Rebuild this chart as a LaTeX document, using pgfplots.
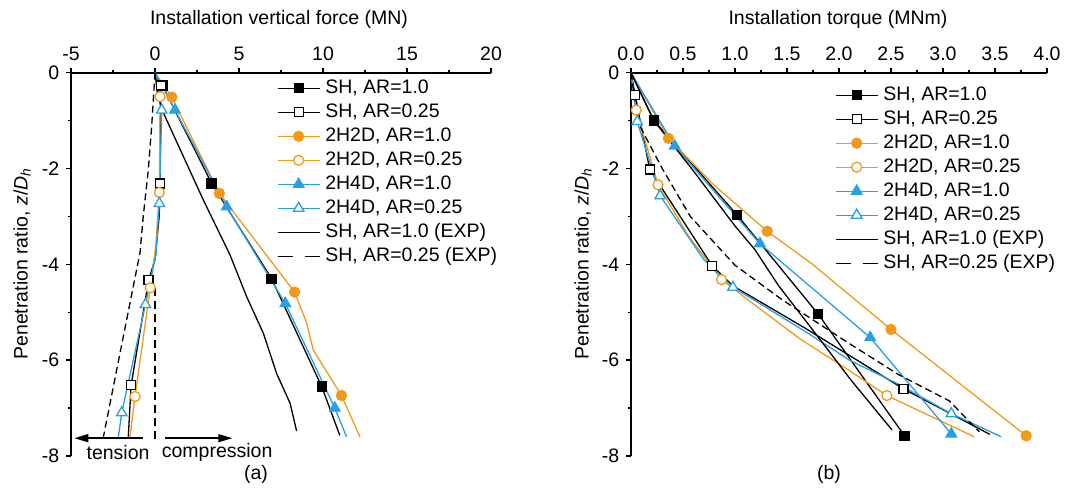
\documentclass[border=0pt]{standalone}
\usepackage{fontspec}
\setmainfont{Liberation Sans}
\usepackage{pgfplots}
\pgfplotsset{compat=1.18}
\usetikzlibrary{arrows.meta}
\definecolor{myorange}{RGB}{242,153,28}
\definecolor{myblue}{RGB}{38,160,226}
\pgfplotsset{
  myaxis/.style={
    scale only axis, height=383.2pt, ymin=-8, ymax=0,
    axis x line=top, axis y line=left,
    axis line style={-, line width=1.8pt},
    tick align=outside, major tick length=5pt, minor tick length=3pt,
    tick style={black, line width=1.4pt},
    ytick={-8,-6,-4,-2,0}, minor y tick num=1, minor x tick num=1,
    /pgf/number format/assume math mode=true,
    clip=false,
    legend cell align=left,
    legend style={draw=none, fill=none, inner sep=0pt, row sep=4pt, column sep=4pt,
      nodes={inner sep=1pt, text height=14pt, text depth=4pt}},
    legend image code/.code={\draw[##1, mark indices={2}] plot coordinates {(0pt,0pt) (21pt,0pt) (42pt,0pt)};},
  },
  shfill/.style={black, line width=1.3pt, mark=square*, mark size=4.5pt, mark options={solid, fill=black}},
  shopen/.style={black, line width=1.3pt, mark=square*, mark size=4.5pt, mark options={solid, fill=white}},
  hdfill/.style={myorange, line width=1.3pt, mark=*, mark size=5pt, mark options={solid, fill=myorange}},
  hdopen/.style={myorange, line width=1.3pt, mark=*, mark size=5pt, mark options={solid, fill=white}},
  h4fill/.style={myblue, line width=1.3pt, mark=triangle*, mark size=6pt, mark options={solid, fill=myblue}},
  h4open/.style={myblue, line width=1.3pt, mark=triangle*, mark size=6pt, mark options={solid, fill=white}},
  expsolid/.style={black, line width=1.3pt, mark=none},
  expdash/.style={black, line width=1.3pt, mark=none, dash pattern=on 7pt off 4pt,
    legend image post style={dash pattern=on 15pt off 12pt}},
}
\begin{document}
\fontsize{19.5}{23.4}\selectfont%
\begin{tikzpicture}
\path[use as bounding box] (0pt,0pt) rectangle (1075pt,488pt);
% ---------------- (a) ----------------
\begin{axis}[myaxis, at={(71pt,32.1pt)}, anchor=south west, width=420pt,
  xmin=-5, xmax=20, xtick={-5,0,5,10,15,20},
  legend style={at={(0.49,0.986)}, anchor=north west}]
\addplot[shfill, mark indices={2,3,4,5}] coordinates {(0,0) (0.45,-0.27) (3.37,-2.31) (6.94,-4.3) (9.92,-6.55) (11.0,-7.57)};
\addlegendentry{SH, AR=1.0}
\addplot[shopen, mark indices={2,3,6,7}] coordinates {(0,0) (0.35,-0.27) (0.3,-2.31) (0.25,-3.0) (0.0,-3.9) (-0.38,-4.33) (-1.42,-6.52) (-1.59,-7.6)};
\addlegendentry{SH, AR=0.25}
\addplot[hdfill, mark indices={2,3,4,7}] coordinates {(0,0) (1.0,-0.51) (3.83,-2.52) (8.31,-4.58) (9.03,-5.23) (9.42,-5.79) (11.1,-6.74) (12.2,-7.6)};
\addlegendentry{2H2D, AR=1.0}
\addplot[hdopen, mark indices={2,3,5,6}] coordinates {(0,0) (0.3,-0.5) (0.26,-2.5) (0.05,-3.6) (-0.28,-4.49) (-1.19,-6.76) (-1.49,-7.6)};
\addlegendentry{2H2D, AR=0.25}
\addplot[h4fill, mark indices={2,3,4,5}] coordinates {(0,0) (1.19,-0.78) (4.27,-2.8) (7.76,-4.82) (10.7,-7.0) (11.4,-7.6)};
\addlegendentry{2H4D, AR=1.0}
\addplot[h4open, mark indices={2,3,5,6}] coordinates {(0,0) (0.4,-0.78) (0.26,-2.73) (0.05,-3.8) (-0.57,-4.84) (-1.98,-7.1) (-2.18,-7.6)};
\addlegendentry{2H4D, AR=0.25}
\addplot[expsolid] coordinates {(0,0) (0.15,-0.45) (0.45,-0.8) (2.88,-2.66) (4.46,-3.8) (5.46,-4.68) (6.45,-5.44) (7.24,-6.28) (8.04,-6.9) (8.43,-7.48)};
\addlegendentry{SH, AR=1.0 (EXP)}
\addplot[expdash] coordinates {(0,0) (-0.2,-1.13) (-0.4,-2.03) (-0.7,-3.0) (-0.89,-3.75) (-3.07,-7.6)};
\addlegendentry{SH, AR=0.25 (EXP)}
\draw[black, line width=1.3pt, dash pattern=on 8pt off 5pt] (axis cs:0,-4.5) -- (axis cs:0,-7.75);
\draw[black, line width=1.5pt, -{Triangle[length=14pt,width=8pt]}] (axis cs:-0.7,-7.63) -- (axis cs:-4.8,-7.63);
\draw[black, line width=1.5pt, -{Triangle[length=14pt,width=8pt]}] (axis cs:0.6,-7.63) -- (axis cs:4.6,-7.63);
\node at (axis cs:-2.2,-7.92) {tension};
\node at (axis cs:3.7,-7.92) {compression};
\end{axis}
% ---------------- (b) ----------------
\begin{axis}[myaxis, at={(631pt,32.1pt)}, anchor=south west, width=416pt,
  xmin=0, xmax=4, xtick={0,0.5,...,4},
  xticklabel style={/pgf/number format/.cd, fixed, fixed zerofill, precision=1},
  legend style={at={(0.49,0.968)}, anchor=north west}]
\addplot[shfill, mark indices={2,3,4,5}] coordinates {(0,0) (0.22,-1.0) (1.02,-2.97) (1.8,-5.04) (2.63,-7.58)};
\addlegendentry{SH, AR=1.0}
\addplot[shopen, mark indices={2,3,4,8}] coordinates {(0,0) (0.04,-0.47) (0.18,-2.02) (0.78,-4.03) (0.98,-4.45) (1.39,-4.97) (1.71,-5.38) (2.62,-6.6) (3.45,-7.55)};
\addlegendentry{SH, AR=0.25}
\addplot[hdfill, mark indices={2,4,6,7}] coordinates {(0,0) (0.36,-1.37) (0.8,-2.35) (1.31,-3.31) (1.74,-3.99) (2.5,-5.36) (3.8,-7.58)};
\addlegendentry{2H2D, AR=1.0}
\addplot[hdopen, mark indices={2,3,5,9}] coordinates {(0,0) (0.05,-0.78) (0.26,-2.34) (0.55,-3.4) (0.87,-4.32) (1.1,-4.7) (1.62,-5.55) (2.1,-6.22) (2.46,-6.74) (3.3,-7.6)};
\addlegendentry{2H2D, AR=0.25}
\addplot[h4fill, mark indices={2,3,4,5}] coordinates {(0,0) (0.42,-1.53) (1.24,-3.57) (2.3,-5.53) (3.08,-7.54)};
\addlegendentry{2H4D, AR=1.0}
\addplot[h4open, mark indices={2,3,5,10}] coordinates {(0,0) (0.06,-1.02) (0.28,-2.57) (0.7,-3.9) (0.98,-4.48) (1.3,-4.9) (1.71,-5.45) (2.1,-6.0) (2.57,-6.5) (3.08,-7.12) (3.56,-7.6)};
\addlegendentry{2H4D, AR=0.25}
\addplot[expsolid] coordinates {(0,0) (0.22,-1.0) (0.6,-2.05) (1.0,-3.2) (1.19,-3.69) (1.42,-4.45) (1.74,-5.35) (2.12,-6.43) (2.51,-7.46)};
\addlegendentry{SH, AR=1.0 (EXP)}
\addplot[expdash] coordinates {(0,0) (0.07,-1.05) (0.3,-2.0) (0.57,-3.0) (1.0,-4.02) (1.46,-4.75) (2.06,-5.6) (2.57,-6.3) (3.06,-6.85) (3.35,-7.5)};
\addlegendentry{SH, AR=0.25 (EXP)}
\end{axis}
% ---------------- labels ----------------
\node at (279pt,469pt) {Installation vertical force (MN)};
\node at (838pt,469pt) {Installation torque (MNm)};
\node[rotate=90] at (22pt,224pt) {Penetration ratio, \textit{z}/\textit{D}\textsubscript{\textit{h}}};
\node[rotate=90] at (583pt,224pt) {Penetration ratio, \textit{z}/\textit{D}\textsubscript{\textit{h}}};
\node at (256pt,14pt) {(a)};
\node at (829pt,14pt) {(b)};
\end{tikzpicture}%
\end{document}
